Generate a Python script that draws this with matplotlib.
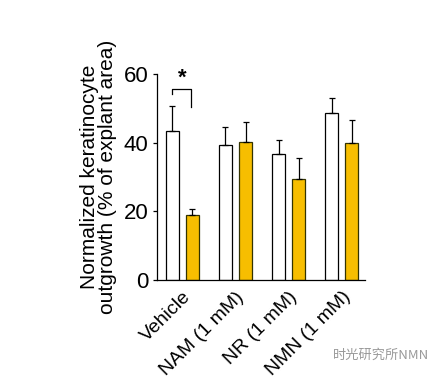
import numpy as np
import matplotlib.pyplot as plt

plt.rcParams['font.family'] = ['Liberation Sans', 'DejaVu Sans']

# Outgrowth values
groups = ['Vehicle', 'NAM (1 mM)', 'NR (1 mM)', 'NMN (1 mM)']
ctrl_mean = [43.4, 39.3, 36.8, 48.6]
ctrl_err = [7.4, 5.4, 4.1, 4.4]
treat_mean = [19.0, 40.3, 29.4, 39.9]
treat_err = [1.8, 5.8, 6.1, 6.7]

x = np.arange(len(groups))
w = 0.245
off = 0.19

fig = plt.figure(figsize=(4.47, 3.82), dpi=100)
ax = fig.add_axes([0.351, 0.267, 0.466, 0.539])

ax.bar(x - off, ctrl_mean, w, color='white', edgecolor='black', linewidth=0.9,
       yerr=[np.zeros(4), ctrl_err], capsize=2.5,
       error_kw=dict(elinewidth=0.9, capthick=0.9, ecolor='black'))
ax.bar(x + off, treat_mean, w, color='#F7BE00', edgecolor='#333300', linewidth=0.9,
       yerr=[np.zeros(4), treat_err], capsize=2.5,
       error_kw=dict(elinewidth=0.9, capthick=0.9, ecolor='black'))

# significance bracket for Vehicle
ax.plot([-0.2, -0.2, 0.17, 0.17], [54.2, 55.6, 55.6, 50.5], color='black', lw=0.9)
ax.text(0.0, 55.6, '*', ha='center', va='bottom', fontsize=16, fontweight='bold')

ax.set_xlim(-0.48, 3.44)
ax.set_ylim(0, 60)
ax.set_yticks([0, 20, 40, 60])
ax.tick_params(axis='y', labelsize=16, length=3, width=0.9, pad=3)
ax.set_xticks(x)
ax.set_xticklabels(groups, rotation=45, ha='right', rotation_mode='anchor', fontsize=14)
ax.tick_params(axis='x', length=0, pad=6)
ax.spines['top'].set_visible(False)
ax.spines['right'].set_visible(False)
ax.spines['left'].set_linewidth(0.9)
ax.spines['bottom'].set_linewidth(0.9)
ax.set_ylabel('Normalized keratinocyte\noutgrowth (% of explant area)', fontsize=15,
              linespacing=0.95, labelpad=5)

# watermark
fig.text(0.745, 0.07, '时光研究所NMN', fontsize=9.5, color='#999999',
         family=['Noto Sans CJK SC', 'DejaVu Sans'], va='center')

fig.savefig('out.png', dpi=100)
